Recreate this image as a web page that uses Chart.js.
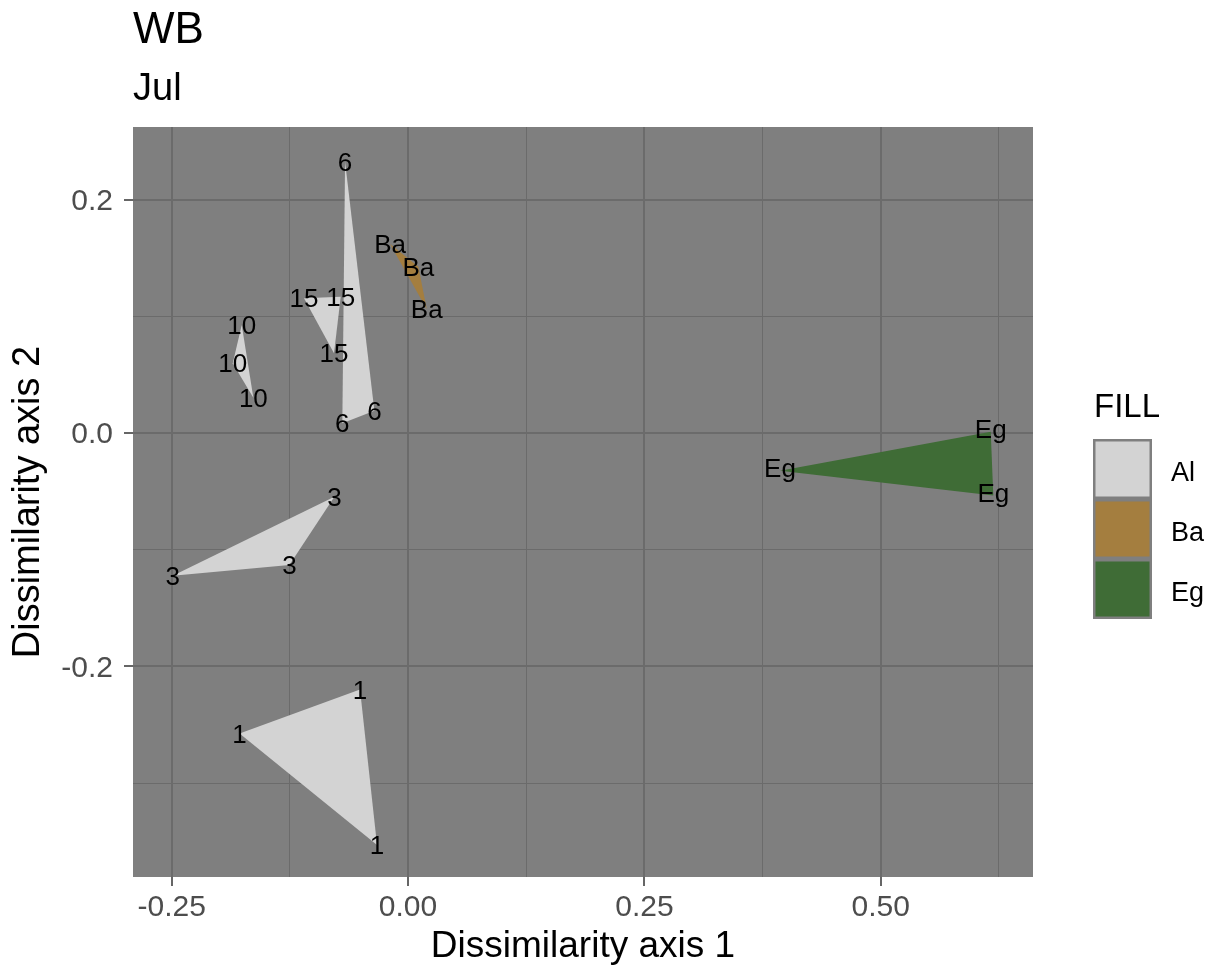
<!DOCTYPE html>
<html>
<head>
<meta charset="utf-8">
<script src="https://cdn.jsdelivr.net/npm/chart.js@4.4.0/dist/chart.umd.min.js"></script>
<style>
  html, body { margin: 0; padding: 0; background: #ffffff; }
  canvas { display: block; }
</style>
</head>
<body>
<canvas id="chart" width="1212" height="972"></canvas>
<script>
// ---------------- data ----------------
const chartTitle = 'WB';
const chartSubtitle = 'Jul';
const xAxisTitle = 'Dissimilarity axis 1';
const yAxisTitle = 'Dissimilarity axis 2';
const legendTitle = 'FILL';

const fillCategories = ['Al', 'Ba', 'Eg'];
const fillColors = ['#d3d3d3', '#a47e3f', '#3f6c36'];

const groupLabels = ['1', '3', '6', '10', '15', 'Ba', 'Eg'];
const groupFill   = ['Al', 'Al', 'Al', 'Al', 'Al', 'Ba', 'Eg'];

const g1X  = [-0.1782, -0.0508, -0.0328];
const g1Y  = [-0.2575, -0.2198, -0.3530];
const g3X  = [-0.2489, -0.1255, -0.0779];
const g3Y  = [-0.1222, -0.1131, -0.0545];
const g6X  = [-0.0666, -0.0695, -0.0356];
const g6Y  = [ 0.2326,  0.0084,  0.0192];
const g10X = [-0.1759, -0.1854, -0.1636];
const g10Y = [ 0.0927,  0.0598,  0.0303];
const g15X = [-0.1100, -0.0712, -0.0783];
const g15Y = [ 0.1155,  0.1169,  0.0684];
const gBaX = [-0.0190,  0.0109,  0.0198];
const gBaY = [ 0.1621,  0.1426,  0.1061];
const gEgX = [ 0.6163,  0.3934,  0.6190];
const gEgY = [ 0.0012, -0.0322, -0.0535];

const groupX = [g1X, g3X, g6X, g10X, g15X, gBaX, gEgX];
const groupY = [g1Y, g3Y, g6Y, g10Y, g15Y, gBaY, gEgY];

const xMin = -0.2909, xMax = 0.6610;
const yMin = -0.3805, yMax = 0.2624;
const xMajorStep = 0.25, xMinorStep = 0.125;
const yMajorStep = 0.2,  yMinorStep = 0.1;

// ---------------- helpers ----------------
const FONT = '"Liberation Sans", Arial, Helvetica, sans-serif';
Chart.defaults.font.family = FONT;

function isMajor(v, step) {
  const r = v / step;
  return Math.abs(r - Math.round(r)) < 1e-6;
}
function colorFor(cat) { return fillColors[fillCategories.indexOf(cat)]; }

const datasets = groupLabels.map((lab, i) => ({
  label: lab,
  data: groupX[i].map((x, k) => ({ x: x, y: groupY[i][k] })),
  showLine: true,
  fill: 'shape',
  backgroundColor: colorFor(groupFill[i]),
  borderColor: 'rgba(0,0,0,0)',
  borderWidth: 0,
  pointRadius: 0,
  pointHoverRadius: 0,
  tension: 0
}));

// ---------------- plugins ----------------
const panelBackground = {
  id: 'panelBackground',
  beforeDraw(chart) {
    const { ctx, chartArea: a } = chart;
    ctx.save();
    ctx.fillStyle = '#7f7f7f';
    ctx.fillRect(a.left, a.top, a.right - a.left, a.bottom - a.top);
    ctx.restore();
  }
};

const pointLabels = {
  id: 'pointLabels',
  afterDatasetsDraw(chart) {
    const ctx = chart.ctx;
    ctx.save();
    ctx.font = '26px ' + FONT;
    ctx.fillStyle = '#000000';
    ctx.textAlign = 'center';
    ctx.textBaseline = 'alphabetic';
    chart.data.datasets.forEach((ds, i) => {
      const meta = chart.getDatasetMeta(i);
      meta.data.forEach(pt => {
        const m = ctx.measureText(ds.label);
        const dy = (m.actualBoundingBoxAscent - m.actualBoundingBoxDescent) / 2;
        ctx.fillText(ds.label, pt.x, pt.y + dy);
      });
    });
    ctx.restore();
  }
};

const titlesAndLegend = {
  id: 'titlesAndLegend',
  afterDraw(chart) {
    const { ctx, chartArea: a } = chart;
    ctx.save();
    ctx.fillStyle = '#000000';
    ctx.textAlign = 'left';
    ctx.textBaseline = 'alphabetic';
    ctx.font = '44px ' + FONT;
    ctx.fillText(chartTitle, a.left, 42.5);
    ctx.font = '38px ' + FONT;
    ctx.fillText(chartSubtitle, a.left, 100);

    // legend
    const keyX = a.right + 60, keyW = 59, keyH = 60, keyTop = 439, inset = 2.5;
    ctx.font = '33px ' + FONT;
    ctx.fillText(legendTitle, keyX + 1, 417);
    ctx.font = '27px ' + FONT;
    fillCategories.forEach((cat, i) => {
      const y = keyTop + i * keyH;
      ctx.fillStyle = '#7f7f7f';
      ctx.fillRect(keyX, y, keyW, keyH);
      ctx.fillStyle = fillColors[i];
      ctx.fillRect(keyX + inset, y + inset, keyW - 2 * inset, keyH - 2 * inset);
      ctx.fillStyle = '#000000';
      ctx.fillText(cat, keyX + 78, y + 42);
    });
    ctx.restore();
  }
};

// ---------------- chart ----------------
new Chart(document.getElementById('chart'), {
  type: 'scatter',
  data: { datasets: datasets },
  options: {
    responsive: false,
    animation: false,
    events: [],
    layout: { padding: { left: 0, top: 127, right: 179, bottom: 0 } },
    plugins: {
      legend: { display: false },
      tooltip: { enabled: false },
      title: { display: false }
    },
    scales: {
      x: {
        type: 'linear',
        min: xMin, max: xMax,
        afterFit: s => { s.height = 95; },
        border: { display: false },
        grid: {
          color: '#6b6b6b',
          lineWidth: c => (c.tick && isMajor(c.tick.value, xMajorStep)) ? 2 : 1,
          drawTicks: true,
          tickLength: 9,
          tickWidth: 1.5,
          tickColor: c => (c.tick && isMajor(c.tick.value, xMajorStep)) ? '#333333' : 'rgba(0,0,0,0)'
        },
        ticks: {
          stepSize: xMinorStep,
          includeBounds: false,
          autoSkip: false,
          maxRotation: 0,
          padding: 7,
          color: '#4d4d4d',
          font: { size: 30, lineHeight: 1 },
          callback: v => isMajor(v, xMajorStep) ? Number(v).toFixed(2) : ''
        },
        title: {
          display: true, text: xAxisTitle, color: '#000000',
          font: { size: 37, lineHeight: 1 },
          padding: { top: 0, bottom: 7 }
        }
      },
      y: {
        type: 'linear',
        min: yMin, max: yMax,
        afterFit: s => { s.width = 133; },
        border: { display: false },
        grid: {
          color: '#6b6b6b',
          lineWidth: c => (c.tick && isMajor(c.tick.value, yMajorStep)) ? 2 : 1,
          drawTicks: true,
          tickLength: 9,
          tickWidth: 1.5,
          tickColor: c => (c.tick && isMajor(c.tick.value, yMajorStep)) ? '#333333' : 'rgba(0,0,0,0)'
        },
        ticks: {
          stepSize: yMinorStep,
          includeBounds: false,
          autoSkip: false,
          padding: 11,
          labelOffset: 2,
          color: '#4d4d4d',
          font: { size: 30, lineHeight: 1 },
          callback: v => isMajor(v, yMajorStep) ? Number(v).toFixed(1) : ''
        },
        title: {
          display: true, text: yAxisTitle, color: '#000000',
          font: { size: 38, lineHeight: 1 },
          padding: { top: 10, bottom: 0 }
        }
      }
    }
  },
  plugins: [panelBackground, pointLabels, titlesAndLegend]
});
</script>
</body>
</html>
